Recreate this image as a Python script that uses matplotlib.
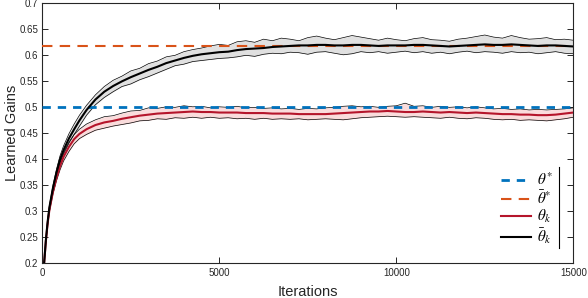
import matplotlib
matplotlib.use("Agg")
import matplotlib.pyplot as plt
from matplotlib.lines import Line2D

plt.rcParams['font.family'] = ['Liberation Sans', 'DejaVu Sans']
plt.rcParams['mathtext.fontset'] = 'stix'

iters = [0, 50, 100, 150, 200, 300, 400, 500, 600, 750, 900, 1050, 1250, 1500, 1750, 2000,
         2250, 2500, 2750, 3000, 3250, 3500, 3750, 4000, 4250, 4500, 4750, 5000, 5250, 5500,
         5750, 6000, 6250, 6500, 6750, 7000, 7250, 7500, 7750, 8000, 8250, 8500, 8750, 9000,
         9250, 9500, 9750, 10000, 10250, 10500, 10750, 11000, 11250, 11500, 11750, 12000,
         12250, 12500, 12750, 13000, 13250, 13500, 13750, 14000, 14250, 14500, 14750, 15000]

avg_mean = [0.17, 0.200, 0.245, 0.280, 0.308, 0.345, 0.375, 0.400, 0.418, 0.440, 0.458, 0.475,
            0.495, 0.515, 0.530, 0.541, 0.550, 0.558, 0.565, 0.572, 0.578, 0.585, 0.590, 0.595,
            0.599, 0.602, 0.604, 0.606, 0.607, 0.610, 0.612, 0.613, 0.614, 0.616, 0.617, 0.618,
            0.619, 0.619, 0.620, 0.620, 0.619, 0.619, 0.620, 0.620, 0.619, 0.618, 0.619, 0.619,
            0.619, 0.620, 0.620, 0.619, 0.618, 0.617, 0.618, 0.619, 0.620, 0.621, 0.620, 0.620,
            0.621, 0.620, 0.619, 0.618, 0.619, 0.619, 0.618, 0.617]
avg_upper = [0.17, 0.202, 0.248, 0.284, 0.312, 0.350, 0.381, 0.407, 0.426, 0.449, 0.468, 0.485,
             0.504, 0.524, 0.540, 0.552, 0.560, 0.570, 0.575, 0.584, 0.589, 0.597, 0.600, 0.607,
             0.611, 0.614, 0.618, 0.621, 0.619, 0.626, 0.628, 0.625, 0.631, 0.628, 0.633, 0.631,
             0.628, 0.634, 0.637, 0.633, 0.630, 0.634, 0.638, 0.635, 0.632, 0.629, 0.633, 0.630,
             0.628, 0.632, 0.634, 0.630, 0.629, 0.627, 0.631, 0.633, 0.636, 0.639, 0.635, 0.633,
             0.638, 0.634, 0.631, 0.632, 0.634, 0.630, 0.631, 0.629]
avg_lower = [0.17, 0.198, 0.242, 0.276, 0.304, 0.340, 0.369, 0.393, 0.410, 0.431, 0.448, 0.464,
             0.485, 0.505, 0.519, 0.530, 0.540, 0.545, 0.553, 0.559, 0.566, 0.573, 0.580, 0.583,
             0.588, 0.590, 0.592, 0.594, 0.595, 0.597, 0.600, 0.598, 0.602, 0.604, 0.603, 0.606,
             0.605, 0.602, 0.606, 0.607, 0.604, 0.601, 0.603, 0.607, 0.605, 0.607, 0.604, 0.606,
             0.608, 0.605, 0.607, 0.604, 0.606, 0.603, 0.606, 0.608, 0.605, 0.607, 0.606, 0.604,
             0.607, 0.605, 0.606, 0.603, 0.605, 0.607, 0.604, 0.603]

k_mean = [0.17, 0.200, 0.243, 0.277, 0.303, 0.338, 0.365, 0.387, 0.405, 0.424, 0.439, 0.449,
          0.458, 0.466, 0.471, 0.474, 0.478, 0.481, 0.484, 0.486, 0.488, 0.489, 0.490, 0.491,
          0.492, 0.491, 0.491, 0.490, 0.490, 0.490, 0.489, 0.489, 0.489, 0.488, 0.488, 0.488,
          0.487, 0.487, 0.487, 0.487, 0.488, 0.489, 0.490, 0.491, 0.492, 0.492, 0.493, 0.492,
          0.491, 0.491, 0.492, 0.491, 0.490, 0.491, 0.490, 0.489, 0.490, 0.489, 0.488, 0.487,
          0.487, 0.486, 0.486, 0.485, 0.485, 0.486, 0.488, 0.490]
k_upper = [0.17, 0.202, 0.246, 0.281, 0.307, 0.343, 0.371, 0.394, 0.413, 0.433, 0.448, 0.458,
           0.468, 0.476, 0.482, 0.484, 0.489, 0.493, 0.494, 0.499, 0.498, 0.501, 0.500, 0.503,
           0.501, 0.502, 0.499, 0.501, 0.500, 0.502, 0.499, 0.500, 0.498, 0.499, 0.497, 0.498,
           0.496, 0.498, 0.497, 0.499, 0.500, 0.502, 0.503, 0.501, 0.502, 0.500, 0.502, 0.503,
           0.508, 0.502, 0.503, 0.500, 0.502, 0.500, 0.501, 0.499, 0.501, 0.499, 0.497, 0.498,
           0.496, 0.497, 0.495, 0.496, 0.495, 0.496, 0.497, 0.499]
k_lower = [0.17, 0.198, 0.240, 0.273, 0.299, 0.333, 0.359, 0.380, 0.397, 0.415, 0.430, 0.440,
           0.448, 0.456, 0.460, 0.464, 0.467, 0.470, 0.474, 0.475, 0.478, 0.477, 0.480, 0.479,
           0.481, 0.479, 0.481, 0.479, 0.480, 0.478, 0.479, 0.477, 0.479, 0.477, 0.478, 0.477,
           0.478, 0.476, 0.477, 0.478, 0.477, 0.476, 0.478, 0.480, 0.481, 0.482, 0.483, 0.482,
           0.481, 0.482, 0.481, 0.480, 0.479, 0.481, 0.479, 0.478, 0.480, 0.479, 0.477, 0.476,
           0.477, 0.475, 0.476, 0.475, 0.474, 0.476, 0.478, 0.481]

theta_star = 0.5
theta_bar_star = 0.618

x_ticks = [0, 5000, 10000, 15000]
y_ticks = [0.2, 0.25, 0.3, 0.35, 0.4, 0.45, 0.5, 0.55, 0.6, 0.65, 0.7]
y_tick_labels = ['0.2', '0.25', '0.3', '0.35', '0.4', '0.45', '0.5', '0.55', '0.6', '0.65', '0.7']

fig = plt.figure(figsize=(5.88, 2.98), dpi=100)
ax = fig.add_axes([0.072, 0.116, 0.903, 0.873])

blue = '#0072BD'
orange = '#D95319'
red = '#B5152B'

ax.fill_between(iters, avg_lower, avg_upper, color='#E0E0E0', lw=0, zorder=1)
ax.plot(iters, avg_upper, color='black', lw=0.5, zorder=2)
ax.plot(iters, avg_lower, color='black', lw=0.5, zorder=2)
ax.fill_between(iters, k_lower, k_upper, color='#FADCDC', lw=0, zorder=1)
ax.plot(iters, k_upper, color='black', lw=0.5, zorder=2)
ax.plot(iters, k_lower, color='black', lw=0.5, zorder=2)

h1 = ax.axhline(theta_star, color=blue, lw=2, ls=(0, (3, 2.5)), zorder=3)
h2 = ax.axhline(theta_bar_star, color=orange, lw=1.5, ls=(0, (5, 3.5)), zorder=3)
h3, = ax.plot(iters, k_mean, color=red, lw=1.5, zorder=4)
h4, = ax.plot(iters, avg_mean, color='black', lw=1.5, zorder=5)

ax.set_xlim(0, 15000)
ax.set_ylim(0.2, 0.7)
ax.set_xticks(x_ticks)
ax.set_xticklabels([str(t) for t in x_ticks])
ax.set_yticks(y_ticks)
ax.set_yticklabels(y_tick_labels)
ax.tick_params(direction='in', top=True, right=True, length=4, width=0.7,
               labelsize=7, colors='#262626', pad=3)
for s in ax.spines.values():
    s.set_linewidth(0.8)
    s.set_color('#262626')

ax.set_xlabel('Iterations', fontsize=10.5, color='#262626', labelpad=5)
ax.set_ylabel('Learned Gains', fontsize=10.5, color='#262626')
ax.yaxis.set_label_coords(-0.044, 0.5)

leg = ax.legend([h1, h2, h3, h4],
                [r'$\theta^{*}$', r'$\bar{\theta}^{*}$', r'$\theta_k$', r'$\bar{\theta}_k$'],
                loc='lower right', bbox_to_anchor=(0.981, 0.024), frameon=False,
                fontsize=11, handlelength=2.0, handletextpad=0.35, labelspacing=0.08,
                borderpad=0.2)
ax.add_line(Line2D([0.973, 0.973], [0.06, 0.371], transform=ax.transAxes,
                   color='black', lw=0.8, clip_on=False))

fig.savefig('out.png', dpi=100)
